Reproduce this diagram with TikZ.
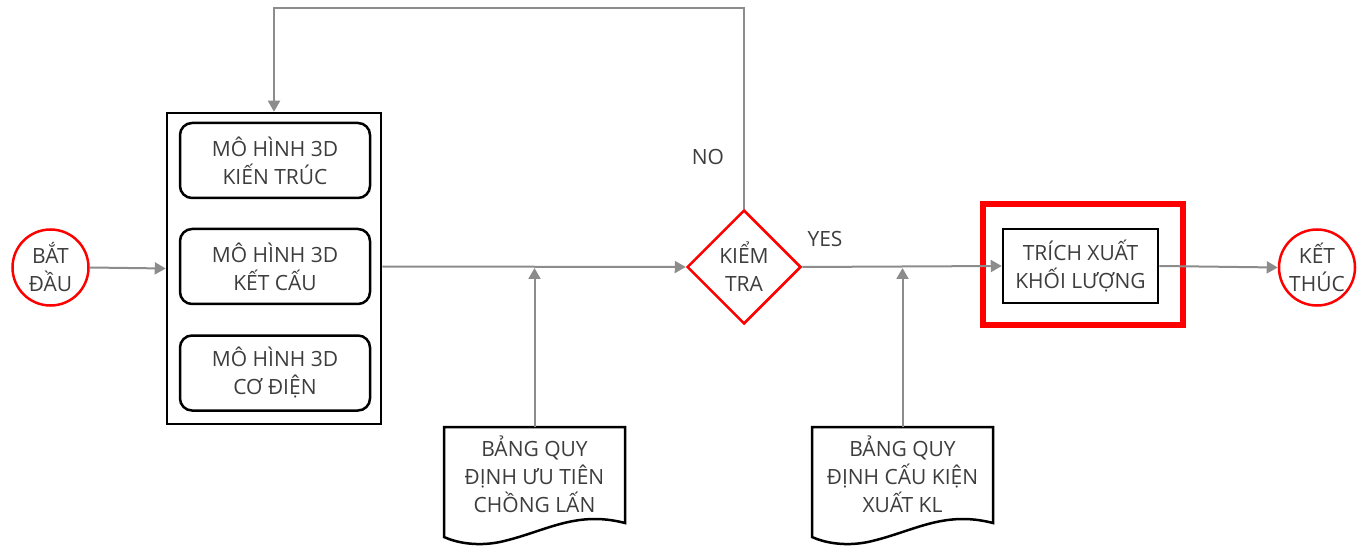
\documentclass[tikz,border=0pt]{standalone}
\usepackage{fontspec}
\setmainfont{Open Sans}
\usetikzlibrary{shapes.geometric,arrows.meta}
\definecolor{txt}{rgb}{0.24,0.24,0.24}
\definecolor{flowgray}{rgb}{0.55,0.55,0.55}
\begin{document}
\begin{tikzpicture}[x=1pt,y=-1pt,
  every node/.style={font=\fontsize{21}{28}\selectfont,text=txt,align=center,inner sep=0pt},
  terminal/.style={circle,draw=red,line width=2.5pt,minimum size=76pt},
  groupbox/.style={rectangle,draw=black,line width=2.5pt,minimum width=214pt,minimum height=311pt},
  modelbox/.style={rectangle,rounded corners=12pt,draw=black,line width=2.5pt,minimum width=190pt,minimum height=75pt},
  decision/.style={diamond,aspect=1,draw=red,line width=2.5pt,minimum width=114pt,minimum height=114pt},
  highlight/.style={rectangle,draw=red,line width=6pt,minimum width=200pt,minimum height=121pt},
  taskbox/.style={rectangle,draw=black,line width=2.5pt,minimum width=155pt,minimum height=74pt},
  docframe/.style={draw=black,line width=2.5pt},
  flow/.style={draw=flowgray,line width=2pt,-{Triangle[length=11pt,width=12pt]}},
  plain/.style={draw=flowgray,line width=2pt}]
\useasboundingbox (0,0) rectangle (1369,548);

% start and end
\node[terminal] (start) at (50.5,267.5) {BẮT\\ĐẦU};
\node[terminal] (end) at (1317,267.5) {KẾT\\THÚC};

% model group
\node[groupbox] (models) at (274,268.5) {};
\node[modelbox] (arch) at (275,160.5) {MÔ HÌNH 3D\\KIẾN TRÚC};
\node[modelbox] (struct) at (275,266.5) {MÔ HÌNH 3D\\KẾT CẤU};
\node[modelbox] (mep) at (275,373) {MÔ HÌNH 3D\\CƠ ĐIỆN};

% check
\node[decision] (check) at (744,267) {KIỂM\\TRA};

% extraction
\node[highlight] (hl) at (1083,264.5) {};
\node[taskbox] (extract) at (1080.5,266) {TRÍCH XUẤT\\KHỐI LƯỢNG};

% documents
\node (doc1) at (534.5,474.5) {BẢNG QUY\\ĐỊNH ƯU TIÊN\\CHỒNG LẤN};
\node (doc2) at (902.5,474.5) {BẢNG QUY\\ĐỊNH CẤU KIỆN\\XUẤT KL};
\draw[docframe] (444,427) -- (625,427) -- (625,523)
  .. controls (575,510) and (545,532) .. (500,542)
  .. controls (475,547) and (455,542) .. (444,537) -- cycle;
\draw[docframe] (812,427) -- (993,427) -- (993,523)
  .. controls (943,510) and (913,532) .. (868,542)
  .. controls (843,547) and (823,542) .. (812,537) -- cycle;
\coordinate (doc1top) at (534.5,427);
\coordinate (doc2top) at (902.5,427);
\coordinate (j1) at (534.5,268);
\coordinate (j2) at (902.5,268);

% connectors
\draw[flow] (start.east) -- (models.west);
\draw[flow] (models.east |- struct.east) -- (check.west);
\draw[flow] (doc1top) -- (j1);
\draw[flow] (doc2top) -- (j2);
\draw[flow] (check.east) -- (extract.west);
\draw[flow] (extract.east) -- (end.west);
\draw[flow] (check.north) -- (744,8) -- (274,8) -- (models.north);

% labels
\node at (708,157) {NO};
\node at (825,239) {YES};
\end{tikzpicture}
\end{document}
